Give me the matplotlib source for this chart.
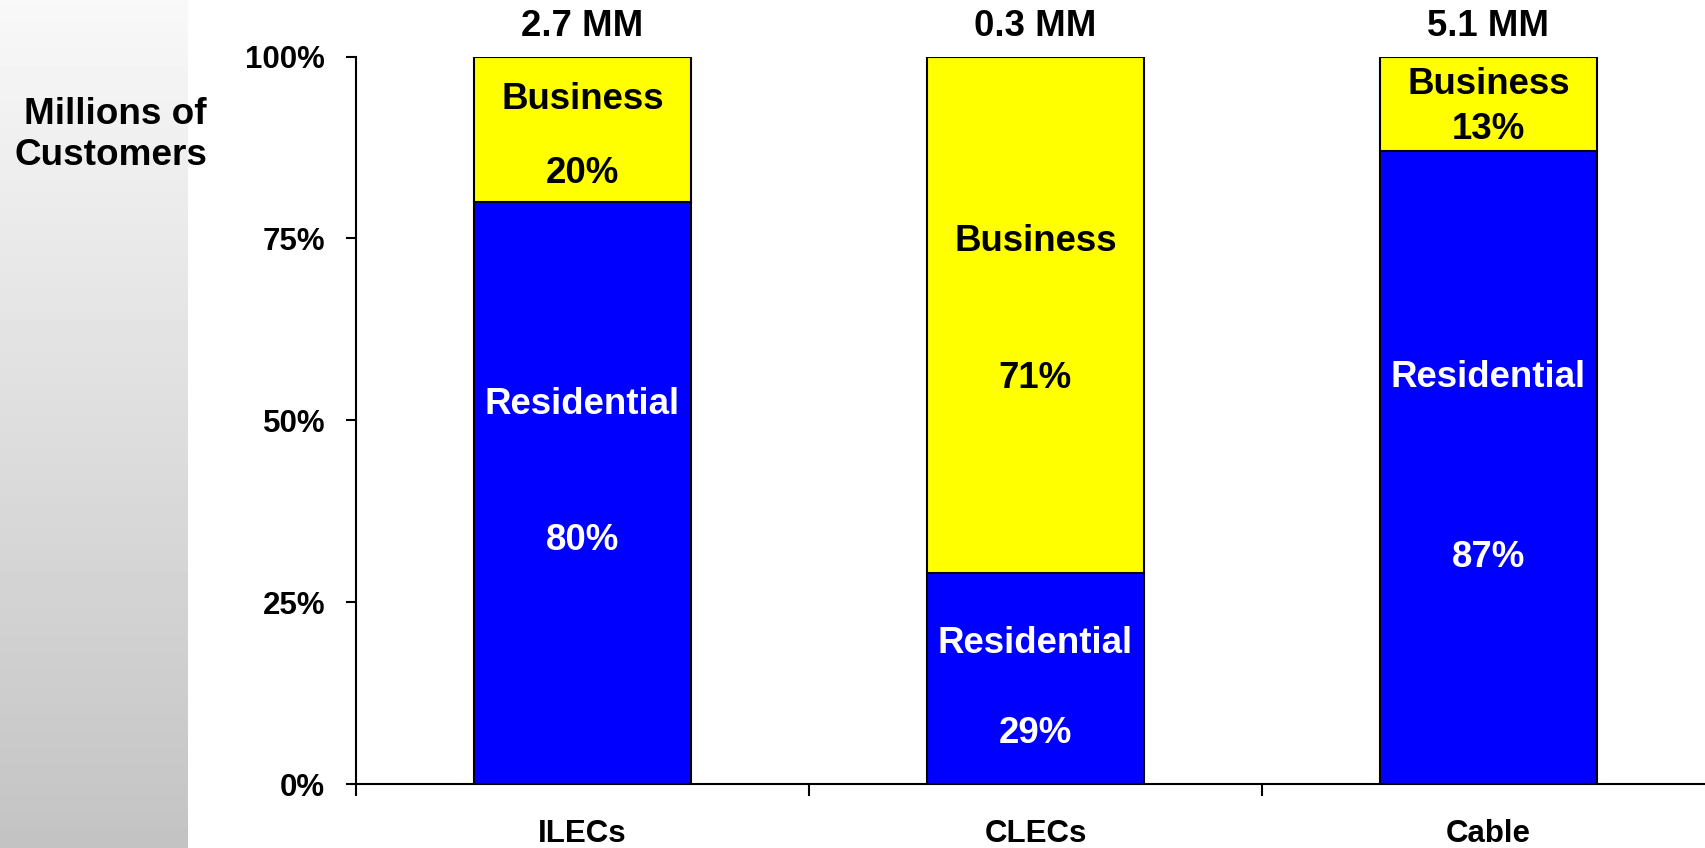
import numpy as np
import matplotlib
matplotlib.use("Agg")
import matplotlib.pyplot as plt

plt.rcParams['font.family'] = ['Liberation Sans', 'DejaVu Sans']
plt.rcParams['font.weight'] = 'bold'

# customer mix by carrier type (percent of customers)
carriers = ["ILECs", "CLECs", "Cable"]
residential = [80, 29, 87]
business = [20, 71, 13]
totals = ["2.7 MM", "0.3 MM", "5.1 MM"]

# heights (in %) where the segment names and percentages sit
res_name_y = [52.2, 19.3, 55.9]
res_pct_y = [33.5, 7.0, 31.2]
bus_name_y = [94.1, 74.6, 96.2]
bus_pct_y = [83.9, 55.8, 90.0]

W, H = 1706, 848
fig = plt.figure(figsize=(W / 100, H / 100), dpi=100)

# grey gradient strip down the left side
side = fig.add_axes([0, 0, 188 / W, 1], zorder=0)
grad = np.linspace(0.973, 0.765, 256).reshape(-1, 1)
side.imshow(grad, cmap="gray", vmin=0, vmax=1, aspect="auto", extent=[0, 1, 0, 1])
side.axis("off")

fig.text(207 / W, 1 - 135 / H, "Millions of\nCustomers", ha="right", va="center",
         multialignment="right", fontsize=26.6, fontweight="bold", linespacing=1.2)

left, bottom = 356 / W, 64 / H
ax = fig.add_axes([left, bottom, (1715 - 356) / W, (784 - 56.6) / H], zorder=1)
ax.patch.set_alpha(0)

x = np.arange(len(carriers))
bw = 0.477
ax.bar(x, residential, bw, color="#0000ff", edgecolor="black", linewidth=1.5)
ax.bar(x, business, bw, bottom=residential, color="#ffff00", edgecolor="black", linewidth=1.5)

fs = 26.4
for i in range(len(carriers)):
    ax.text(x[i], res_name_y[i], "Residential", ha="center", va="center",
            color="white", fontsize=fs, fontweight="bold")
    ax.text(x[i], res_pct_y[i], f"{residential[i]}%", ha="center", va="center",
            color="white", fontsize=fs, fontweight="bold")
    ax.text(x[i], bus_name_y[i], "Business", ha="center", va="center",
            color="black", fontsize=fs, fontweight="bold")
    ax.text(x[i], bus_pct_y[i], f"{business[i]}%", ha="center", va="center",
            color="black", fontsize=fs, fontweight="bold")
    ax.annotate(totals[i], (x[i], residential[i] + business[i]), xytext=(0, 21.6),
                textcoords="offset points", ha="center", va="center",
                fontsize=fs, fontweight="bold", annotation_clip=False)

ax.set_xlim(-0.5, 2.5)
ax.set_ylim(0, 100)
ax.set_yticks([0, 25, 50, 75, 100])
ax.set_yticklabels(["0%", "25%", "50%", "75%", "100%"])
ax.set_xticks(x)
ax.set_xticklabels(carriers)
ax.set_xticks([-0.5, 0.5, 1.5, 2.5], minor=True)

ax.tick_params(axis="y", direction="out", length=7.2, width=1.5, pad=15, labelsize=22.5)
ax.tick_params(axis="x", which="major", length=0, pad=25.5, labelsize=22.5)
ax.tick_params(axis="x", which="minor", direction="out", length=8.5, width=1.5)
for lab in ax.get_xticklabels() + ax.get_yticklabels():
    lab.set_fontweight("bold")

for s in ["top", "right"]:
    ax.spines[s].set_visible(False)
for s in ["left", "bottom"]:
    ax.spines[s].set_linewidth(1.5)

fig.savefig("out.png", dpi=100)
